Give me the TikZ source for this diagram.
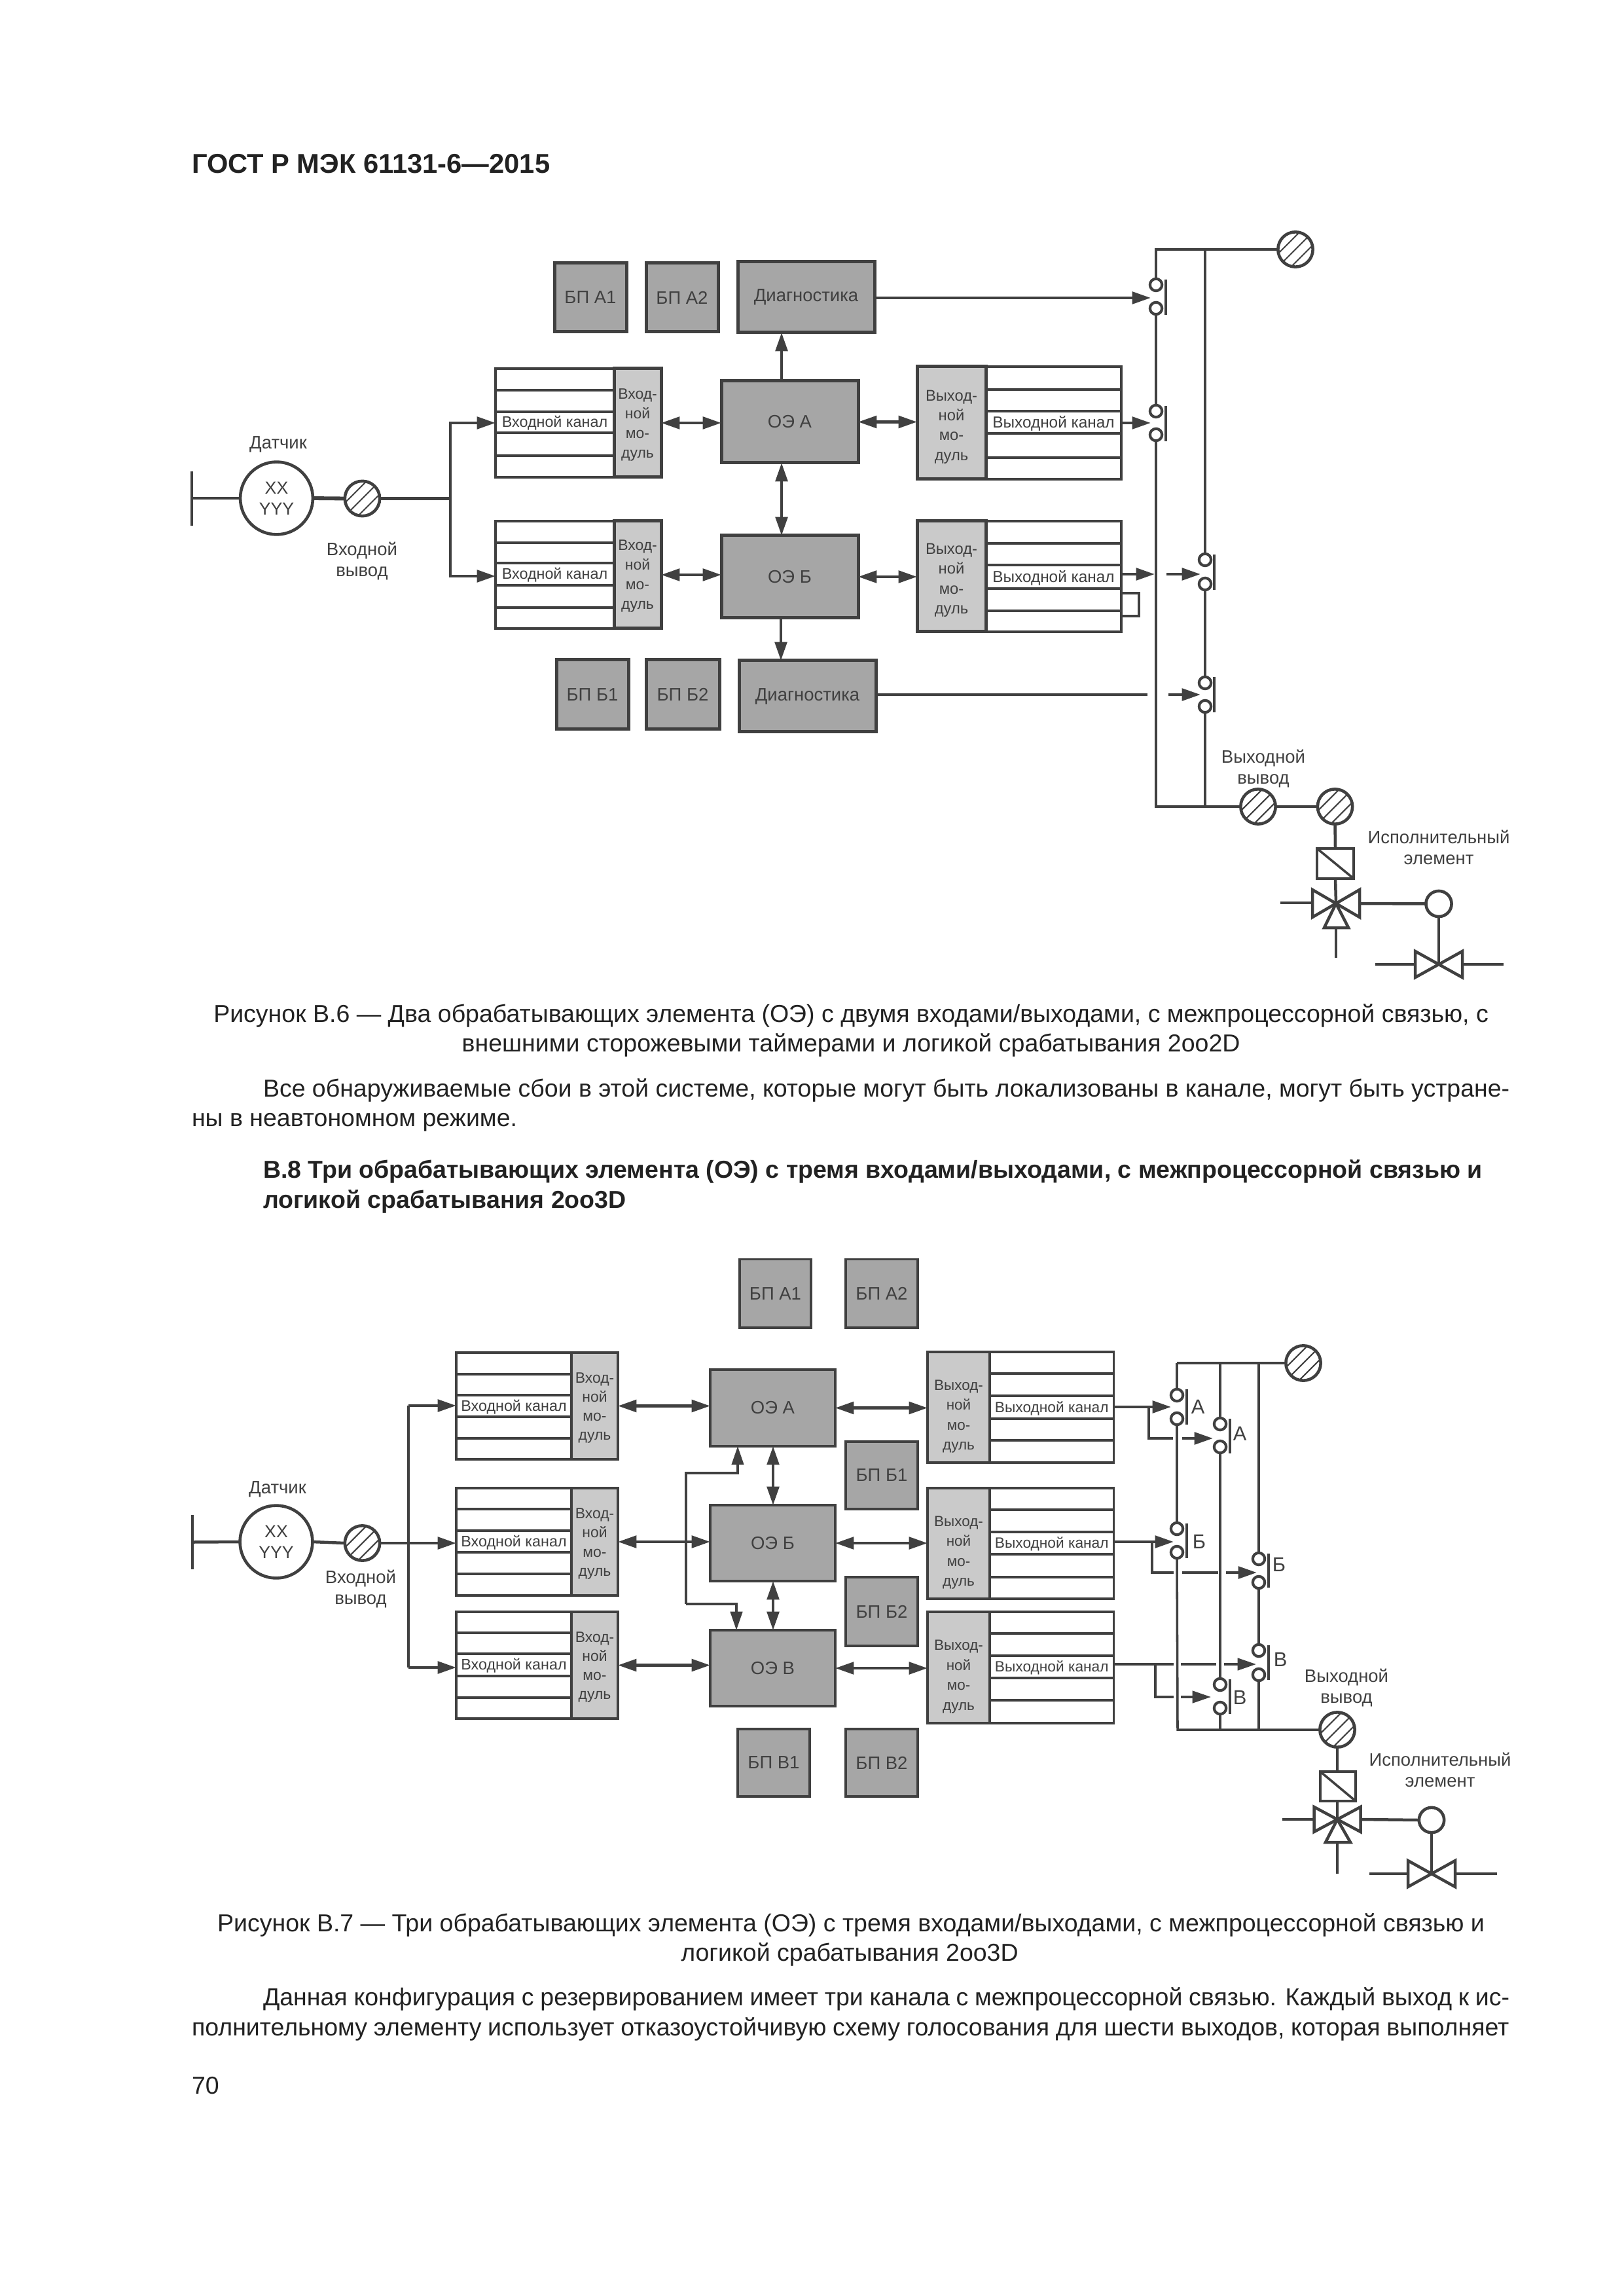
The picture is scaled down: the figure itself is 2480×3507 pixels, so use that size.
\documentclass[tikz,border=0pt]{standalone}
\usepackage{fontspec}
\setmainfont{Liberation Sans}
\usetikzlibrary{arrows.meta,calc}
\definecolor{ink}{HTML}{404040}
\definecolor{dark}{HTML}{A6A6A6}
\definecolor{mid}{HTML}{CACACA}
\definecolor{bodyink}{HTML}{222222}
\newcommand{\fl}[2]{\fontsize{#1}{#2}\selectfont}
\tikzset{
 wire/.style={draw=ink,line width=1.08pt},
 thin wire/.style={draw=ink,line width=0.85pt},
 arr/.style={wire,-{Triangle[length=6.8pt,width=4.4pt]}},
 thinarr/.style={thin wire,-{Triangle[length=6.8pt,width=4.4pt]}},
 dbl/.style={wire,{Triangle[length=6.8pt,width=4.4pt]}-{Triangle[length=6.8pt,width=4.4pt]}},
 darkbox/.style={draw=ink,line width=1.2pt,fill=dark,inner sep=0pt,outer sep=0pt,text=ink,font=\fl{6.6}{8},align=center},
 modbox/.style={draw=ink,line width=1.2pt,fill=mid,inner sep=0pt,outer sep=0pt},
 rowbox/.style={draw=ink,line width=1.1pt,fill=white,inner sep=0pt,outer sep=0pt},
 rowline/.style={draw=ink,line width=1.1pt},
 chlabel/.style={inner sep=0pt,outer sep=0pt,text=ink},
 lab/.style={inner sep=0pt,outer sep=0pt,text=ink,font=\fl{6.6}{7.7},align=center},
 swc/.style={circle,draw=ink,line width=1pt,fill=white,minimum size=4.4pt,inner sep=0pt,outer sep=0pt},
 swbar/.style={draw=ink,line width=1pt},
 actbox/.style={draw=ink,line width=1.05pt,fill=white,inner sep=0pt,outer sep=0pt},
 pinstyle/.style={circle,draw=ink,line width=1.1pt,fill=white,minimum size=12.8pt,inner sep=0pt,outer sep=0pt,
   path picture={\draw[ink,line width=0.5pt,shift={(path picture bounding box.center)}]
     (-40,20)--(20,-40) (-30,30)--(30,-30) (-20,40)--(40,-20);}},
 sensorstyle/.style={circle,draw=ink,line width=1.1pt,fill=white,minimum size=26.6pt,inner sep=0pt,outer sep=0pt,text=ink,font=\fl{6.4}{7.7},align=center},
 txt/.style={anchor=base west,inner sep=0pt,outer sep=0pt,text=bodyink,font=\fl{9}{11}},
 txtc/.style={anchor=base,inner sep=0pt,outer sep=0pt,text=bodyink,font=\fl{9}{11}},
 txtb/.style={anchor=base west,inner sep=0pt,outer sep=0pt,text=bodyink,font=\fl{9}{11}\bfseries},
}
% name, style, x1, y1, x2, y2, text
\newcommand{\nbox}[7]{\node[#2,minimum width={(#5-#3)*0.24pt},minimum height={(#6-#4)*0.24pt}] (#1) at ({(#3+#5)/2},{(#4+#6)/2}) {#7};}
% name, x1, x2, y1, y2, r1, r2, r3, r4
\newcommand{\rows}[9]{\nbox{#1}{rowbox}{#2}{#4}{#3}{#5}{}
 \draw[rowline] (#2,#6)--(#3,#6) (#2,#7)--(#3,#7) (#2,#8)--(#3,#8) (#2,#9)--(#3,#9);
 \coordinate (#1mid) at ({(#2+#3)/2},{(#7+#8)/2+1.5});}
% module text: box name, downward offset, size, leading, text
\newcommand{\mtxt}[5]{\node[chlabel,align=center,font=\fl{#3}{#4}] (#1T) at ([yshift={-(#2)*0.24pt}]#1.center) {#5};}
% name, x, y1, y2, barx, bar1, bar2
\newcommand{\sw}[7]{\node[swc] (#1T) at (#2,#3) {}; \node[swc] (#1B) at (#2,#4) {};
 \coordinate (#1a) at (#5,#6); \coordinate (#1b) at (#5,#7); \draw[swbar] (#1a)--(#1b);}
% x,y,w,h
\newcommand{\vbow}[4]{\draw[wire,fill=white] ({#1-#3},{#2-#4})--({#1+#3},{#2+#4})--({#1+#3},{#2-#4})--({#1-#3},{#2+#4})--cycle;}
\begin{document}
\begin{tikzpicture}[x=0.24pt,y=-0.24pt]
\useasboundingbox (0,0) rectangle (2480,3507);
% ---------- page text ----------
\node[txtb,font=\fl{10}{12}\bfseries] (hdr) at (293,265) {ГОСТ Р МЭК 61131-6—2015};
\node[txtc] (cap1a) at (1300,1561.7) {Рисунок В.6 — Два обрабатывающих элемента (ОЭ) с двумя входами/выходами, с межпроцессорной связью, с};
\node[txtc] (cap1b) at (1300,1606.7) {внешними сторожевыми таймерами и логикой срабатывания 2oo2D};
\node[txt] (p1a) at (402,1675) {\hbox to 457pt{Все обнаруживаемые сбои в этой системе, которые могут быть локализованы в канале, могут быть устране-}};
\node[txt] (p1b) at (293,1720) {ны в неавтономном режиме.};
\node[txtb] (h1a) at (402,1799) {В.8 Три обрабатывающих элемента (ОЭ) с тремя входами/выходами, с межпроцессорной связью и};
\node[txtb] (h1b) at (402,1845) {логикой срабатывания 2oo3D};
\node[txtc] (cap2a) at (1300,2950) {Рисунок В.7 — Три обрабатывающих элемента (ОЭ) с тремя входами/выходами, с межпроцессорной связью и};
\node[txtc] (cap2b) at (1298,2995) {логикой срабатывания 2oo3D};
\node[txt] (p2a) at (402,3063) {\hbox to 457pt{Данная конфигурация с резервированием имеет три канала с межпроцессорной связью. Каждый выход к ис-}};
\node[txt] (p2b) at (293,3109) {\hbox to 483pt{полнительному элементу использует отказоустойчивую схему голосования для шести выходов, которая выполняет}};
\node[txt] (pgn) at (293,3198) {70};
% ---------- figure B.6 ----------
\nbox{bpa1}{darkbox}{847}{402}{957}{507}{БП А1}
\nbox{bpa2}{darkbox}{987}{402}{1097}{507}{БП А2}
\nbox{diaga}{darkbox}{1127}{400}{1336}{508}{Диагностика}
\nbox{bpb1}{darkbox}{850}{1008}{960}{1114}{БП Б1}
\nbox{bpb2}{darkbox}{987}{1008}{1099}{1114}{БП Б2}
\nbox{diagb}{darkbox}{1129}{1009}{1338}{1118}{Диагностика}
\nbox{oea}{darkbox}{1102}{582}{1311}{707}{ОЭ А}
\nbox{oeb}{darkbox}{1102}{818}{1311}{944}{ОЭ Б}
\rows{ia}{757}{938}{563}{729}{596}{629}{661}{696}
\rows{ib}{757}{938}{796}{960}{829}{860}{894}{928}
\node[chlabel,font=\fl{5.6}{7}] (ial) at (iamid) {Входной канал};
\node[chlabel,font=\fl{5.6}{7}] (ibl) at (ibmid) {Входной канал};
\nbox{ima}{modbox}{938}{563}{1010}{729}{}
\mtxt{ima}{3}{5.5}{7.2}{Вход-\\ной\\мо-\\дуль}
\nbox{imb}{modbox}{938}{796}{1010}{960}{}
\mtxt{imb}{2}{5.5}{7.2}{Вход-\\ной\\мо-\\дуль}
\rows{oa}{1506}{1713}{560}{732}{595}{628}{662}{699}
\rows{ob}{1506}{1713}{796}{965}{830}{863}{899}{933}
\node[chlabel,font=\fl{5.85}{7}] (oal) at (oamid) {Выходной канал};
\node[chlabel,font=\fl{5.85}{7}] (obl) at (obmid) {Выходной канал};
\nbox{oma}{modbox}{1401}{560}{1506}{732}{}
\mtxt{oma}{6}{5.7}{7.3}{Выход-\\ной\\мо-\\дуль}
\nbox{omb}{modbox}{1401}{796}{1506}{965}{}
\mtxt{omb}{6}{5.7}{7.3}{Выход-\\ной\\мо-\\дуль}
% sensor
\node[sensorstyle] (sen) at (422.5,761) {XX\\YYY};
\node[lab] (senl) at (425,679) {Датчик};
\coordinate (sbt) at (293,720); \coordinate (sbb) at (293,803); \coordinate (sbm) at (293,761);
\draw[wire] (sbt)--(sbb);
\draw[wire] (sbm)--(sen.west);
\node[pinstyle] (pin1) at (553.5,761.5) {};
\draw[wire,line width=1.4pt] (sen.east)--(pin1.west);
\node[lab] (pinl) at (553,857) {Входной\\вывод};
\coordinate (j1) at (688,761.5);
\coordinate (j1a) at (688,646);
\coordinate (j1b) at (688,880);
\draw[wire] (pin1.east)--(j1);
\draw[arr] (j1)--(j1a)--(j1a -| ia.west);
\draw[arr] (j1)--(j1b)--(j1b -| ib.west);
\draw[dbl] (ima.east)--(ima.east -| oea.west);
\draw[dbl] (imb.east)--(imb.east -| oeb.west);
\draw[dbl] (oea.east)--(oea.east -| oma.west);
\draw[dbl] (oeb.east)--(oeb.east -| omb.west);
\coordinate (abt) at (1194,707);
\draw[dbl] (abt)--(abt |- oeb.north);
\coordinate (dgt) at (1194,582);
\draw[arr] (dgt)--(dgt |- diaga.south);
\coordinate (dgb) at (1193,944);
\draw[arr] (dgb)--(dgb |- diagb.north);
% switches
\sw{s1}{1766}{435}{471}{1781}{427}{481}
\sw{s2}{1766}{628}{664}{1781}{620}{674}
\sw{s3}{1841}{855}{892}{1855}{847}{901}
\sw{s4}{1841}{1043}{1079}{1855}{1034}{1088}
\node[pinstyle] (pt1) at (1979,381) {};
\node[pinstyle] (po1) at (1922,1232) {};
\node[pinstyle] (po2) at (2039.5,1232) {};
\coordinate (tl) at (1766,381); \coordinate (tm) at (1841,381);
\coordinate (bl) at (1766,1232); \coordinate (bm) at (1841,1232);
\draw[wire] (s1T.north)--(tl)--(pt1.west);
\draw[wire] (tm)--(s3T.north);
\draw[wire] (s1B.south)--(s2T.north);
\draw[wire] (s2B.south)--(bl)--(po1.west);
\draw[wire] (s3B.south)--(s4T.north);
\draw[wire] (s4B.south)--(bm);
\draw[wire] (po1.east)--(po2.west);
\coordinate (sa) at (1758,455);
\draw[arr] (diaga.east |- sa)--(sa);
\coordinate (sb) at (1758,646);
\draw[arr] (oa.east |- sb)--(sb);
\coordinate (sc) at (1764,877);
\draw[arr] (ob.east |- sc)--(sc);
\coordinate (scs) at (1782,877); \coordinate (sce) at (1834,877);
\draw[arr] (scs)--(sce);
\coordinate (sd) at (1753,1061);
\draw[wire] (diagb.east |- sd)--(sd);
\coordinate (sds) at (1785,1061); \coordinate (sde) at (1834,1061);
\draw[arr] (sds)--(sde);
\coordinate (lp1) at (1740,906); \coordinate (lp2) at (1740,941);
\draw[wire] (ob.east |- lp1)--(lp1)--(lp2)--(ob.east |- lp2);
% actuator
\nbox{act1}{actbox}{2012}{1296}{2068}{1342}{}
\draw[thin wire] (act1.north west)--(act1.south east);
\draw[wire] (po2.south)--(act1.north);
\coordinate (v1) at (2041,1380);
\draw[wire] (act1.south)--(v1);
\vbow{2041}{1380}{36}{21}
\draw[wire,fill=white] (v1)--(2023,1417)--(2060,1417)--cycle;
\coordinate (v1l) at (1956,1379); \coordinate (v1ls) at (2006,1379);
\draw[wire] (v1l)--(v1ls);
\coordinate (v1d) at (2041,1417); \coordinate (v1de) at (2041,1463);
\draw[wire] (v1d)--(v1de);
\node[circle,draw=ink,line width=1.1pt,fill=white,minimum size=9.4pt,inner sep=0pt,outer sep=0pt] (c1) at (2198,1380.5) {};
\coordinate (v1r) at (2078,1380);
\draw[wire] (v1r)--(c1.west);
\coordinate (v2) at (2198,1473);
\draw[wire] (c1.south)--(v2);
\vbow{2198}{1473}{36}{20}
\coordinate (v2ll) at (2101,1473); \coordinate (v2ls) at (2162,1473);
\coordinate (v2rs) at (2235,1473); \coordinate (v2rr) at (2297,1473);
\draw[wire] (v2ll)--(v2ls) (v2rs)--(v2rr);
\node[lab] (ovl) at (1930,1174) {Выходной\\вывод};
\node[lab] (actl) at (2198,1294) {Исполнительный\\элемент};
% ---------- figure B.7 ----------
\tikzset{darkbox/.append style={line width=0.95pt},modbox/.append style={line width=0.95pt},
 rowbox/.append style={line width=0.9pt},rowline/.append style={line width=0.9pt}}
\nbox{cbpa1}{darkbox}{1130}{1923.5}{1239}{2028}{БП А1}
\nbox{cbpa2}{darkbox}{1292}{1923.5}{1402}{2028}{БП А2}
\nbox{cbpb1}{darkbox}{1292}{2202}{1402}{2305}{БП Б1}
\nbox{cbpb2}{darkbox}{1292}{2409}{1402}{2514}{БП Б2}
\nbox{cbpv1}{darkbox}{1127}{2641}{1237}{2744}{БП В1}
\nbox{cbpv2}{darkbox}{1292}{2641}{1402}{2744}{БП В2}
\nbox{coa}{darkbox}{1085}{2092}{1276}{2209}{ОЭ А}
\nbox{cob}{darkbox}{1085}{2299}{1276}{2415}{ОЭ Б}
\nbox{cov}{darkbox}{1085}{2490}{1276}{2606}{ОЭ В}
\rows{cia}{697}{873}{2066}{2229}{2099}{2131}{2164}{2197}
\rows{cib}{697}{873}{2273}{2437}{2305}{2338}{2371}{2404}
\rows{civ}{697}{873}{2462}{2625}{2494}{2526}{2560}{2593}
\node[chlabel,font=\fl{5.6}{7}] (cial) at (ciamid) {Входной канал};
\node[chlabel,font=\fl{5.6}{7}] (cibl) at (cibmid) {Входной канал};
\node[chlabel,font=\fl{5.6}{7}] (civl) at (civmid) {Входной канал};
\nbox{cima}{modbox}{873}{2066}{944}{2229}{}
\mtxt{cima}{3}{5.5}{7}{Вход-\\ной\\мо-\\дуль}
\nbox{cimb}{modbox}{873}{2273}{944}{2437}{}
\mtxt{cimb}{3}{5.5}{7}{Вход-\\ной\\мо-\\дуль}
\nbox{cimv}{modbox}{873}{2462}{944}{2625}{}
\mtxt{cimv}{3}{5.5}{7}{Вход-\\ной\\мо-\\дуль}
\rows{coa1}{1512}{1701.5}{2065}{2234}{2098}{2132}{2167}{2200}
\rows{cob1}{1512}{1701.5}{2273}{2442}{2306}{2340}{2374}{2409}
\rows{cov1}{1512}{1701.5}{2462}{2632}{2495}{2529}{2563}{2597}
\node[chlabel,font=\fl{5.45}{7}] (coal) at (coa1mid) {Выходной канал};
\node[chlabel,font=\fl{5.45}{7}] (cobl) at (cob1mid) {Выходной канал};
\node[chlabel,font=\fl{5.45}{7}] (covl) at (cov1mid) {Выходной канал};
\nbox{coma}{modbox}{1417}{2065}{1512}{2234}{}
\mtxt{coma}{14}{5.4}{7.3}{Выход-\\ной\\мо-\\дуль}
\nbox{comb}{modbox}{1417}{2273}{1512}{2442}{}
\mtxt{comb}{14}{5.4}{7.3}{Выход-\\ной\\мо-\\дуль}
\nbox{comv}{modbox}{1417}{2462}{1512}{2632}{}
\mtxt{comv}{14}{5.4}{7.3}{Выход-\\ной\\мо-\\дуль}
% sensor
\node[sensorstyle] (csen) at (422,2355) {XX\\YYY};
\node[lab] (csenl) at (424,2275) {Датчик};
\coordinate (csbt) at (294,2314); \coordinate (csbb) at (294,2397); \coordinate (csbm) at (294,2355.5);
\draw[wire] (csbt)--(csbb);
\draw[wire] (csbm)--(csen.west);
\node[pinstyle] (cpin) at (553.5,2357) {};
\draw[wire] (csen.east)--(cpin.west);
\node[lab] (cpinl) at (551,2427) {Входной\\вывод};
\coordinate (cjt) at (624,2147);
\coordinate (cjb) at (624,2547);
\draw[wire] (cjt)--(cjb);
\draw[arr] (cpin.east)--(cpin.east -| cib.west);
\draw[arr] (cjt)--(cjt -| cia.west);
\draw[arr] (cjb)--(cjb -| civ.west);
\draw[dbl] (cima.east)--(cima.east -| coa.west);
\draw[dbl] (cimb.east)--(cimb.east -| cob.west);
\draw[dbl] (cimv.east)--(cimv.east -| cov.west);
\draw[dbl] (coa.east)--(coa.east -| coma.west);
\draw[dbl] (cob.east)--(cob.east -| comb.west);
\draw[dbl] (cov.east)--(cov.east -| comv.west);
\coordinate (cab) at (1181,2209);
\draw[dbl] (cab)--(cab |- cob.north);
\coordinate (cbv) at (1181,2415);
\draw[dbl] (cbv)--(cbv |- cov.north);
\coordinate (byt) at (1127,2209); \coordinate (byb) at (1125,2490);
\coordinate (b1) at (1127,2250); \coordinate (b2) at (1048,2250); \coordinate (b3) at (1048,2450); \coordinate (b4) at (1125,2450);
\draw[thinarr] (b3)--(b2)--(b1)--(byt);
\draw[thinarr] (b3)--(b4)--(byb);
% switches
\sw{a1}{1798}{2131}{2167}{1813}{2122}{2176}
\sw{a2}{1864}{2175}{2210}{1879}{2167}{2220}
\sw{b5}{1798}{2335}{2371}{1813}{2327}{2380}
\sw{b6}{1923}{2381}{2417}{1938}{2373}{2425}
\sw{v5}{1923}{2521}{2558}{1938}{2513}{2566}
\sw{v6}{1864}{2573}{2609}{1879}{2565}{2618}
\node[pinstyle] (cpt) at (1991,2082) {};
\node[pinstyle] (cpo) at (2043,2642) {};
\coordinate (ctl) at (1798,2082); \coordinate (ctm) at (1864,2082); \coordinate (ctr) at (1923,2082);
\coordinate (cbl) at (1799,2642); \coordinate (cbm) at (1864,2642); \coordinate (cbr) at (1923,2642);
\draw[thin wire] (a1T.north)--(ctl);
\draw[wire] (ctl)--(cpt.west);
\draw[thin wire] (ctm)--(a2T.north);
\draw[thin wire] (ctr)--(b6T.north);
\draw[thin wire] (a1B.south)--(b5T.north);
\draw[thin wire] (b5B.south)--(cbl)--(cpo.west);
\draw[thin wire] (a2B.south)--(v6T.north);
\draw[thin wire] (v6B.south)--(cbm);
\draw[thin wire] (b6B.south)--(v5T.north);
\draw[thin wire] (v5B.south)--(cbr);
% output wiring A
\coordinate (ae) at (1789,2149); \coordinate (ab) at (1755,2149); \coordinate (ab2) at (1755,2197);
\coordinate (ab3) at (1792,2197); \coordinate (ab4) at (1806,2197); \coordinate (ab5) at (1853,2197);
\draw[arr] (coa1.east |- ae)--(ae);
\draw[wire] (ab)--(ab2)--(ab3);
\draw[arr] (ab4)--(ab5);
% B
\coordinate (be) at (1793,2355); \coordinate (bb) at (1760,2355); \coordinate (bb2) at (1760,2402);
\coordinate (bb3) at (1793,2402); \coordinate (bb4) at (1806,2402); \coordinate (bb5) at (1861,2402);
\coordinate (bb6) at (1873,2402); \coordinate (bb7) at (1920,2402);
\draw[arr] (cob1.east |- be)--(be);
\draw[wire] (bb)--(bb2)--(bb3);
\draw[wire] (bb4)--(bb5);
\draw[arr] (bb6)--(bb7);
% V
\coordinate (ve) at (1793,2542); \coordinate (vs) at (1804,2542); \coordinate (vm) at (1858,2542);
\coordinate (vn) at (1870,2542); \coordinate (vt) at (1919,2542);
\coordinate (vb) at (1765,2542); \coordinate (vb2) at (1765,2592); \coordinate (vb3) at (1793,2592);
\coordinate (vb4) at (1804,2592); \coordinate (vb5) at (1850,2592);
\draw[thin wire] (cov1.east |- ve)--(ve);
\draw[thin wire] (vs)--(vm);
\draw[thinarr] (vn)--(vt);
\draw[thin wire] (vb)--(vb2)--(vb3);
\draw[thinarr] (vb4)--(vb5);
% switch letters
\node[lab,font=\fl{7.4}{8}] (la1) at (1830,2149) {А};
\node[lab,font=\fl{7.4}{8}] (la2) at (1894,2190) {А};
\node[lab,font=\fl{7.4}{8}] (lb1) at (1832,2355) {Б};
\node[lab,font=\fl{7.4}{8}] (lb2) at (1954,2390) {Б};
\node[lab,font=\fl{7.4}{8}] (lv1) at (1894,2593) {В};
\node[lab,font=\fl{7.4}{8}] (lv2) at (1956,2535) {В};
% actuator
\nbox{cact}{actbox}{2017}{2706}{2071}{2751}{}
\draw[thin wire] (cact.north west)--(cact.south east);
\draw[wire] (cpo.south)--(cact.north -| cpo.south);
\coordinate (cv1) at (2043,2779);
\draw[wire] (cact.south -| cv1)--(cv1);
\vbow{2043}{2779}{35.5}{19}
\draw[wire,fill=white] (cv1)--(2025,2814)--(2063,2814)--cycle;
\coordinate (cv1l) at (1959,2779); \coordinate (cv1ls) at (2008,2779);
\draw[wire] (cv1l)--(cv1ls);
\coordinate (cv1d) at (2043,2814); \coordinate (cv1de) at (2043,2862);
\draw[wire] (cv1d)--(cv1de);
\node[circle,draw=ink,line width=1.1pt,fill=white,minimum size=9.2pt,inner sep=0pt,outer sep=0pt] (cc1) at (2187,2780) {};
\coordinate (cv1r) at (2079,2779);
\draw[wire] (cv1r)--(cc1.west);
\coordinate (cv2) at (2187,2862);
\draw[wire] (cc1.south)--(cv2);
\vbow{2187}{2862}{36}{20}
\coordinate (cv2ll) at (2092,2862); \coordinate (cv2ls) at (2152,2862);
\coordinate (cv2rs) at (2223,2862); \coordinate (cv2rr) at (2287,2862);
\draw[wire] (cv2ll)--(cv2ls) (cv2rs)--(cv2rr);
\node[lab] (covl2) at (2057,2578) {Выходной\\вывод};
\node[lab] (cactl) at (2200,2703) {Исполнительный\\элемент};
\end{tikzpicture}
\end{document}
